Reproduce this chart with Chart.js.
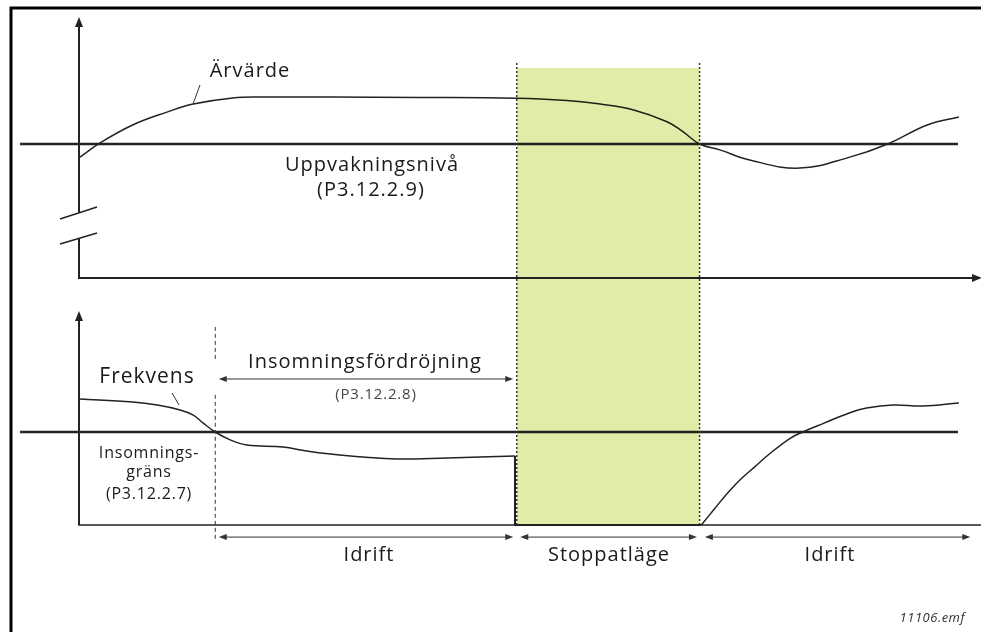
<!DOCTYPE html>
<html>
<head>
<meta charset="utf-8">
<script src="https://cdn.jsdelivr.net/npm/chart.js@4.4.0/dist/chart.umd.min.js"></script>
<style>
  html, body { margin: 0; padding: 0; background: #fff; }
  #wrap { width: 981px; height: 632px; }
</style>
</head>
<body>
<div id="wrap"><canvas id="chart" width="981" height="632"></canvas></div>
<script>
// Tid i godtyckliga enheter (0 = y-axeln, 100 = slutet av diagrammet)
const arvardeTime  = [0.1, 2.4, 6.1, 10.0, 13.0, 17.5, 21.4, 28.6, 38.8, 49.8, 55.5, 59.3, 63.1, 66.9, 68.7, 70.6, 72.9, 76.3, 82.0, 87.7, 92.0, 96.5, 100.1];
const arvardeValue = [45.1, 50.4, 57.1, 61.9, 64.9, 67.2, 67.5, 67.5, 67.4, 67.1, 66.2, 64.9, 62.7, 58.3, 54.6, 50.0, 47.8, 44.0, 41.0, 45.1, 50.0, 57.1, 60.1];

const frekvensTime  = [0.1, 6.1, 8.9, 11.5, 13.0, 14.1, 15.5, 17.2, 19.1, 23.2, 25.9, 28.6, 32.3, 36.2, 41.9, 45.6, 49.6];
const frekvensValue = [54.2, 52.9, 51.6, 49.5, 47.3, 43.9, 40.0, 36.6, 34.4, 33.5, 31.8, 30.5, 29.2, 28.4, 28.8, 29.2, 29.7];

const stoppTime  = [49.6, 49.6, 70.8];
const stoppValue = [29.7, 0, 0];

const omstartTime  = [70.8, 72.35, 73.87, 75.39, 76.9, 78.4, 80.9, 82.4, 84.7, 87.7, 89.6, 92.6, 96.0, 100.1];
const omstartValue = [0, 7.2, 14.1, 20.1, 25.1, 30.1, 37.3, 40.1, 43.7, 48.3, 50.3, 51.6, 51.2, 52.5];

// Nivåer
const uppvakningsniva = 50;
const insomningsgrans = 40;
const levelStart = -6.7;
const levelEnd = 100;

// Tidpunkter
const sleepStart = 15.5;   // frekvensen under insomningsgränsen
const stopStart = 49.8;    // stoppläge börjar
const stopEnd = 70.6;      // ärvärdet under uppvakningsnivån

function toPoints(xs, ys) {
    return xs.map((x, i) => ({ x: x, y: ys[i] }));
}

const INK = '#222';
const FONT = '"Open Sans", "DejaVu Sans", sans-serif';

function arrowHead(ctx, x, y, dir, len, half) {
    // dir: 'up', 'right', 'left'
    ctx.beginPath();
    if (dir === 'up') {
        ctx.moveTo(x, y);
        ctx.lineTo(x - half, y + len);
        ctx.lineTo(x + half, y + len);
    } else if (dir === 'right') {
        ctx.moveTo(x, y);
        ctx.lineTo(x - len, y - half);
        ctx.lineTo(x - len, y + half);
    } else {
        ctx.moveTo(x, y);
        ctx.lineTo(x + len, y - half);
        ctx.lineTo(x + len, y + half);
    }
    ctx.closePath();
    ctx.fill();
}

function line(ctx, x1, y1, x2, y2) {
    ctx.beginPath();
    ctx.moveTo(x1, y1);
    ctx.lineTo(x2, y2);
    ctx.stroke();
}

function dimArrow(ctx, x1, x2, y) {
    ctx.save();
    ctx.strokeStyle = '#333';
    ctx.fillStyle = '#333';
    ctx.lineWidth = 1;
    line(ctx, x1 + 4, y, x2 - 4, y);
    arrowHead(ctx, x1, y, 'left', 8, 3);
    arrowHead(ctx, x2, y, 'right', 8, 3);
    ctx.restore();
}

function text(ctx, str, x, y, size, opts) {
    opts = opts || {};
    ctx.save();
    ctx.font = (opts.italic ? 'italic ' : '') + size + 'px ' + FONT;
    ctx.fillStyle = opts.color || '#1a1a1a';
    ctx.textAlign = opts.align || 'center';
    ctx.textBaseline = 'alphabetic';
    if ('letterSpacing' in ctx) ctx.letterSpacing = (opts.spacing !== undefined ? opts.spacing : 1) + 'px';
    ctx.fillText(str, x, y);
    ctx.restore();
}

const diagramPlugin = {
    id: 'diagram',
    afterDatasetsDraw(chart) {
        const ctx = chart.ctx;
        const X = v => chart.scales.x.getPixelForValue(v);
        const YA = v => chart.scales.yA.getPixelForValue(v);
        const YB = v => chart.scales.yB.getPixelForValue(v);
        const x0 = X(0);

        ctx.save();

        // grönt stoppläge, multipliceras över linjerna
        ctx.globalCompositeOperation = 'multiply';
        ctx.fillStyle = '#e2eba8';
        ctx.fillRect(X(stopStart), YA(78.4), X(stopEnd) - X(stopStart), YB(0) - YA(78.4));
        ctx.globalCompositeOperation = 'source-over';

        // prickade gränser
        ctx.strokeStyle = '#333';
        ctx.lineWidth = 1.5;
        ctx.setLineDash([2, 2]);
        line(ctx, X(stopStart), YA(80.2), X(stopStart), YB(0));
        line(ctx, X(stopEnd), YA(80.2), X(stopEnd), YB(0));

        // streckad linje vid insomning
        ctx.lineWidth = 1;
        ctx.setLineDash([4, 3]);
        line(ctx, X(sleepStart), YB(85.2), X(sleepStart), YB(71));
        line(ctx, X(sleepStart), YB(56), X(sleepStart), YB(-6.5));
        ctx.setLineDash([]);

        // ram
        ctx.strokeStyle = '#000';
        ctx.lineWidth = 3;
        ctx.strokeRect(11, 8, 1000, 660);

        // axlar, övre diagram
        ctx.strokeStyle = INK;
        ctx.fillStyle = INK;
        ctx.lineWidth = 2;
        const topTip = YA(chart.scales.yA.max);
        line(ctx, x0, topTip + 8, x0, YA(24.6));
        line(ctx, x0, YA(14.9), x0, YA(0));
        line(ctx, x0 - 1, YA(0), 975, YA(0));
        arrowHead(ctx, x0, topTip, 'up', 10, 4);
        arrowHead(ctx, 982, YA(0), 'right', 10, 4);
        ctx.lineWidth = 1.5;
        line(ctx, x0 - 19, YA(24.6) + 7, x0 + 18, YA(24.6) - 5);
        line(ctx, x0 - 19, YA(14.9) + 6, x0 + 18, YA(14.9) - 5);

        // axlar, nedre diagram
        ctx.lineWidth = 2;
        const botTip = YB(92);
        line(ctx, x0, botTip + 8, x0, YB(0));
        ctx.lineWidth = 1.5;
        line(ctx, x0 - 1, YB(0), 981, YB(0));
        arrowHead(ctx, x0, botTip, 'up', 10, 4);

        // ledare till kurvetiketter
        ctx.lineWidth = 1;
        ctx.strokeStyle = '#333';
        line(ctx, 193, 104, 200, 85);
        line(ctx, 172, 393, 179, 405);

        // måttpilar
        dimArrow(ctx, X(15.9), X(49.4), YB(62.8));
        dimArrow(ctx, X(15.9), X(49.4), YB(-5.2));
        dimArrow(ctx, X(50.2), X(70.3), YB(-5.2));
        dimArrow(ctx, X(71.2), X(101.4), YB(-5.2));

        ctx.restore();

        // texter
        text(ctx, 'Ärvärde', 250, 77, 20);
        text(ctx, 'Uppvakningsnivå', 372, 171, 20);
        text(ctx, '(P3.12.2.9)', 371, 196, 20);
        text(ctx, 'Frekvens', 147, 383, 21);
        text(ctx, 'Insomningsfördröjning', 365, 368, 20);
        text(ctx, '(P3.12.2.8)', 376, 399, 15, { color: '#444', spacing: 0.8 });
        text(ctx, 'Insomnings-', 149, 458, 16, { spacing: 0.8 });
        text(ctx, 'gräns', 149, 477, 16, { spacing: 0.8 });
        text(ctx, '(P3.12.2.7)', 149, 499, 16, { spacing: 0.8 });
        text(ctx, 'Idrift', 369, 561, 20);
        text(ctx, 'Stoppatläge', 609, 561, 20);
        text(ctx, 'Idrift', 830, 561, 20);
        text(ctx, '11106.emf', 965, 622, 13, { italic: true, align: 'right', color: '#333', spacing: 0.5 });
    }
};

const curveStyle = {
    borderColor: INK,
    borderWidth: 1.5,
    pointRadius: 0,
    fill: false,
    clip: false
};

new Chart(document.getElementById('chart').getContext('2d'), {
    type: 'line',
    data: {
        datasets: [
            Object.assign({ label: 'Uppvakningsnivå', data: toPoints([levelStart, levelEnd], [uppvakningsniva, uppvakningsniva]), yAxisID: 'yA', tension: 0 }, curveStyle, { borderWidth: 2.5 }),
            Object.assign({ label: 'Ärvärde', data: toPoints(arvardeTime, arvardeValue), yAxisID: 'yA', tension: 0.4 }, curveStyle),
            Object.assign({ label: 'Insomningsgräns', data: toPoints([levelStart, levelEnd], [insomningsgrans, insomningsgrans]), yAxisID: 'yB', tension: 0 }, curveStyle, { borderWidth: 2.5 }),
            Object.assign({ label: 'Frekvens', data: toPoints(frekvensTime, frekvensValue), yAxisID: 'yB', tension: 0.4 }, curveStyle),
            Object.assign({ label: 'Frekvens stopp', data: toPoints(stoppTime, stoppValue), yAxisID: 'yB', tension: 0 }, curveStyle, { borderWidth: 2 }),
            Object.assign({ label: 'Frekvens idrift', data: toPoints(omstartTime, omstartValue), yAxisID: 'yB', tension: 0.4 }, curveStyle)
        ]
    },
    options: {
        responsive: false,
        animation: false,
        events: [],
        layout: {
            padding: { left: 79, right: 23, top: 17, bottom: 107 }
        },
        plugins: {
            legend: { display: false },
            tooltip: { enabled: false }
        },
        scales: {
            x: { type: 'linear', min: 0, max: 100, display: false },
            yA: { type: 'linear', min: -92.2, max: 97.4, display: false },
            yB: { type: 'linear', min: 0, max: 218.5, display: false }
        }
    },
    plugins: [diagramPlugin]
});
</script>
</body>
</html>
